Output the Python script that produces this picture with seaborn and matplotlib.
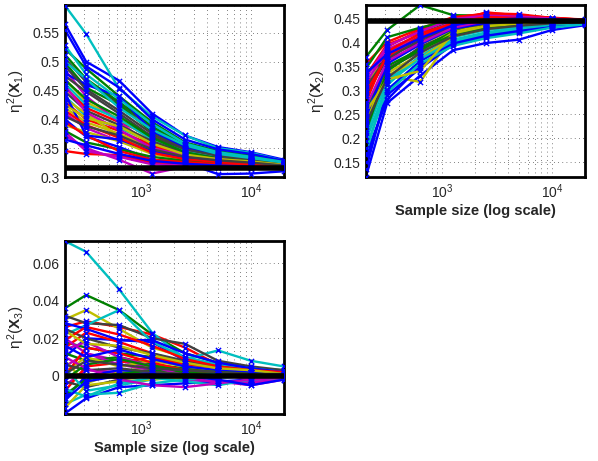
import numpy as np
import pandas as pd
import matplotlib
matplotlib.use("Agg")
import matplotlib.pyplot as plt
from matplotlib.ticker import NullFormatter, FixedLocator
import seaborn as sns

# tamaños de muestra (eje x logaritmico)
tamanos = [200, 312, 625, 1250, 2500, 5000, 10000, 20000]

# valores verdaderos (linea negra)
verdad_x1 = 0.3155
verdad_x2 = 0.444
verdad_x3 = 0.0

# eta^2(X1): una fila por repeticion
eta_x1 = [
    [0.565, 0.500, 0.467, 0.410, 0.372, 0.352, 0.343, 0.330],
    [0.522, 0.488, 0.440, 0.395, 0.360, 0.345, 0.337, 0.327],
    [0.345, 0.340, 0.338, 0.325, 0.322, 0.318, 0.316, 0.318],
    [0.597, 0.548, 0.453, 0.405, 0.372, 0.350, 0.342, 0.328],
    [0.372, 0.350, 0.330, 0.306, 0.318, 0.316, 0.314, 0.318],
    [0.470, 0.430, 0.400, 0.365, 0.345, 0.335, 0.330, 0.322],
    [0.505, 0.465, 0.428, 0.385, 0.350, 0.338, 0.333, 0.325],
    [0.555, 0.492, 0.455, 0.400, 0.365, 0.348, 0.340, 0.328],
    [0.498, 0.455, 0.425, 0.378, 0.352, 0.340, 0.332, 0.324],
    [0.455, 0.420, 0.395, 0.372, 0.348, 0.336, 0.330, 0.322],
    [0.440, 0.405, 0.385, 0.360, 0.340, 0.334, 0.329, 0.323],
    [0.485, 0.440, 0.395, 0.355, 0.340, 0.330, 0.326, 0.321],
    [0.420, 0.395, 0.375, 0.352, 0.338, 0.332, 0.327, 0.322],
    [0.475, 0.448, 0.410, 0.370, 0.346, 0.335, 0.330, 0.323],
    [0.400, 0.370, 0.352, 0.330, 0.325, 0.305, 0.306, 0.310],
    [0.512, 0.470, 0.430, 0.388, 0.355, 0.342, 0.334, 0.326],
    [0.430, 0.400, 0.380, 0.355, 0.336, 0.330, 0.326, 0.320],
    [0.462, 0.425, 0.400, 0.365, 0.344, 0.334, 0.329, 0.323],
    [0.410, 0.385, 0.362, 0.345, 0.332, 0.328, 0.324, 0.320],
    [0.390, 0.378, 0.362, 0.340, 0.330, 0.327, 0.323, 0.319],
    [0.448, 0.415, 0.390, 0.362, 0.342, 0.333, 0.328, 0.322],
    [0.480, 0.460, 0.440, 0.380, 0.350, 0.338, 0.331, 0.324],
    [0.380, 0.360, 0.348, 0.335, 0.328, 0.324, 0.321, 0.318],
    [0.395, 0.372, 0.345, 0.330, 0.326, 0.322, 0.320, 0.317],
    [0.528, 0.478, 0.435, 0.392, 0.358, 0.343, 0.335, 0.326],
    [0.378, 0.345, 0.335, 0.322, 0.320, 0.318, 0.316, 0.315],
    [0.435, 0.410, 0.370, 0.348, 0.334, 0.329, 0.325, 0.321],
    [0.492, 0.452, 0.415, 0.375, 0.348, 0.337, 0.331, 0.324],
    [0.445, 0.372, 0.365, 0.345, 0.333, 0.327, 0.324, 0.320],
    [0.468, 0.435, 0.405, 0.368, 0.343, 0.332, 0.327, 0.322],
    [0.415, 0.390, 0.368, 0.342, 0.331, 0.326, 0.322, 0.319],
    [0.500, 0.470, 0.420, 0.382, 0.355, 0.340, 0.333, 0.325],
    [0.458, 0.412, 0.382, 0.350, 0.337, 0.331, 0.326, 0.321],
    [0.425, 0.402, 0.388, 0.358, 0.339, 0.331, 0.327, 0.321],
    [0.405, 0.388, 0.372, 0.348, 0.335, 0.329, 0.325, 0.320],
    [0.365, 0.355, 0.340, 0.328, 0.323, 0.320, 0.318, 0.316],
]

# eta^2(X2)
eta_x2 = [
    [0.120, 0.273, 0.330, 0.383, 0.398, 0.405, 0.425, 0.435],
    [0.369, 0.425, 0.477, 0.456, 0.455, 0.450, 0.448, 0.445],
    [0.330, 0.395, 0.420, 0.440, 0.462, 0.455, 0.450, 0.446],
    [0.180, 0.300, 0.360, 0.400, 0.415, 0.425, 0.435, 0.440],
    [0.300, 0.380, 0.410, 0.435, 0.448, 0.452, 0.447, 0.444],
    [0.250, 0.330, 0.317, 0.415, 0.430, 0.435, 0.440, 0.442],
    [0.270, 0.340, 0.390, 0.420, 0.435, 0.440, 0.442, 0.443],
    [0.150, 0.290, 0.345, 0.395, 0.410, 0.420, 0.432, 0.438],
    [0.340, 0.360, 0.415, 0.445, 0.450, 0.448, 0.446, 0.444],
    [0.310, 0.390, 0.425, 0.450, 0.460, 0.458, 0.450, 0.447],
    [0.210, 0.320, 0.370, 0.410, 0.425, 0.432, 0.438, 0.441],
    [0.285, 0.375, 0.400, 0.430, 0.445, 0.448, 0.446, 0.444],
    [0.320, 0.360, 0.395, 0.425, 0.440, 0.444, 0.445, 0.443],
    [0.235, 0.345, 0.380, 0.418, 0.432, 0.438, 0.441, 0.442],
    [0.165, 0.280, 0.350, 0.398, 0.412, 0.422, 0.434, 0.439],
    [0.260, 0.350, 0.385, 0.422, 0.436, 0.441, 0.443, 0.443],
    [0.355, 0.400, 0.428, 0.452, 0.458, 0.455, 0.451, 0.446],
    [0.195, 0.310, 0.372, 0.405, 0.420, 0.430, 0.437, 0.440],
    [0.315, 0.385, 0.415, 0.442, 0.452, 0.450, 0.448, 0.445],
    [0.225, 0.330, 0.365, 0.412, 0.428, 0.436, 0.440, 0.441],
    [0.290, 0.365, 0.405, 0.432, 0.442, 0.446, 0.445, 0.444],
    [0.135, 0.300, 0.360, 0.400, 0.415, 0.425, 0.436, 0.439],
    [0.345, 0.410, 0.430, 0.446, 0.448, 0.447, 0.446, 0.444],
    [0.275, 0.380, 0.418, 0.438, 0.455, 0.452, 0.449, 0.445],
    [0.205, 0.295, 0.355, 0.392, 0.408, 0.418, 0.430, 0.437],
    [0.325, 0.392, 0.422, 0.448, 0.455, 0.453, 0.449, 0.445],
    [0.240, 0.335, 0.375, 0.420, 0.438, 0.442, 0.444, 0.443],
    [0.305, 0.370, 0.400, 0.428, 0.438, 0.443, 0.444, 0.443],
    [0.245, 0.355, 0.395, 0.428, 0.440, 0.446, 0.445, 0.444],
    [0.215, 0.340, 0.385, 0.415, 0.430, 0.437, 0.441, 0.442],
    [0.295, 0.370, 0.412, 0.440, 0.452, 0.450, 0.447, 0.445],
    [0.170, 0.315, 0.365, 0.402, 0.418, 0.428, 0.436, 0.440],
    [0.265, 0.360, 0.398, 0.430, 0.444, 0.447, 0.446, 0.444],
    [0.255, 0.322, 0.340, 0.418, 0.433, 0.438, 0.441, 0.442],
    [0.230, 0.325, 0.378, 0.412, 0.427, 0.434, 0.439, 0.441],
    [0.335, 0.375, 0.408, 0.435, 0.446, 0.449, 0.447, 0.444],
]

# eta^2(X3)
eta_x3 = [
    [0.010, 0.020, 0.019, 0.018, 0.008, 0.005, 0.003, 0.002],
    [0.036, 0.043, 0.035, 0.022, 0.012, 0.007, 0.004, 0.003],
    [0.026, 0.029, 0.026, 0.022, 0.015, 0.006, 0.003, 0.002],
    [0.0717, 0.066, 0.046, 0.023, 0.009, 0.0135, 0.008, 0.005],
    [0.005, 0.012, 0.008, 0.004, 0.002, -0.003, -0.005, -0.002],
    [0.030, 0.035, 0.025, 0.015, 0.010, 0.005, 0.003, 0.002],
    [0.032, 0.028, 0.027, 0.020, 0.017, 0.008, 0.005, 0.003],
    [-0.020, -0.012, -0.006, -0.005, -0.004, -0.003, -0.002, -0.001],
    [0.018, 0.015, 0.012, 0.010, 0.006, 0.004, 0.002, 0.002],
    [0.015, 0.023, 0.018, 0.012, 0.007, 0.002, 0.001, 0.001],
    [0.022, 0.027, 0.035, 0.018, 0.010, 0.006, 0.004, 0.002],
    [-0.005, 0.003, 0.002, 0.001, -0.002, -0.003, -0.004, -0.001],
    [0.008, -0.004, 0.002, 0.005, 0.004, 0.002, 0.001, 0.000],
    [0.025, 0.020, 0.015, 0.012, 0.008, 0.005, 0.003, 0.002],
    [-0.012, 0.000, 0.003, 0.002, 0.001, 0.000, -0.001, 0.000],
    [0.012, 0.008, 0.010, 0.006, 0.004, 0.003, 0.002, 0.001],
    [-0.008, 0.005, 0.007, 0.010, 0.006, 0.003, 0.001, 0.001],
    [-0.015, -0.010, -0.009, -0.004, -0.002, -0.001, 0.000, -0.001],
    [0.020, 0.012, 0.006, 0.003, 0.002, 0.001, -0.002, 0.000],
    [0.002, 0.010, 0.005, 0.008, 0.005, 0.003, 0.002, 0.001],
    [-0.003, -0.006, -0.002, 0.000, 0.001, 0.001, 0.001, 0.000],
    [0.028, 0.025, 0.019, 0.019, 0.012, 0.007, 0.004, 0.002],
    [-0.010, -0.002, 0.001, 0.003, 0.002, 0.001, 0.000, 0.000],
    [0.000, 0.015, 0.012, 0.007, 0.003, 0.002, 0.001, 0.001],
    [0.004, -0.008, -0.005, -0.002, 0.000, 0.001, 0.001, 0.001],
    [0.014, 0.018, 0.010, 0.005, 0.000, -0.004, -0.003, -0.001],
    [-0.017, -0.005, -0.003, -0.002, -0.001, 0.000, 0.000, 0.000],
    [0.006, 0.003, 0.004, 0.002, 0.001, 0.000, 0.000, 0.000],
    [0.016, 0.010, 0.014, 0.009, 0.005, 0.003, 0.002, 0.001],
    [-0.002, 0.006, 0.009, 0.005, 0.003, 0.002, 0.001, 0.001],
    [0.019, 0.026, 0.022, 0.016, 0.009, 0.005, 0.003, 0.002],
    [-0.007, -0.011, -0.004, -0.001, -0.003, -0.005, -0.002, -0.001],
    [0.010, 0.004, -0.002, -0.005, -0.006, -0.004, -0.002, -0.001],
    [0.024, 0.017, 0.016, 0.011, 0.007, 0.004, 0.003, 0.001],
    [0.001, 0.008, 0.006, 0.004, 0.003, 0.002, 0.001, 0.001],
    [-0.013, -0.003, 0.000, 0.001, 0.000, -0.002, -0.005, -0.002],
]

etiquetas_y = [r'$\eta^2(\mathbf{X}_1)$', r'$\eta^2(\mathbf{X}_2)$', r'$\eta^2(\mathbf{X}_3)$']
ticks_y = [
    [0.3, 0.35, 0.4, 0.45, 0.5, 0.55],
    [0.15, 0.2, 0.25, 0.3, 0.35, 0.4, 0.45],
    [0, 0.02, 0.04, 0.06],
]
etiquetas_ticks_y = [
    ['0.3', '0.35', '0.4', '0.45', '0.5', '0.55'],
    ['0.15', '0.2', '0.25', '0.3', '0.35', '0.4', '0.45'],
    ['0', '0.02', '0.04', '0.06'],
]
limites_y = [(0.3, 0.598), (0.119, 0.477), (-0.0203, 0.0717)]

# orden de colores clasico de MATLAB
colores_matlab = [(0, 0, 1), (0, 0.5, 0), (1, 0, 0), (0, 0.75, 0.75),
                  (0.75, 0, 0.75), (0.75, 0.75, 0), (0.25, 0.25, 0.25)]


def a_largo(valores):
    filas = []
    for i, serie in enumerate(valores):
        for n, v in zip(tamanos, serie):
            filas.append({'corrida': i, 'N': n, 'eta': v})
    return pd.DataFrame(filas)


sns.set_style("white")
plt.rcParams['font.family'] = ['Liberation Sans', 'DejaVu Sans']
plt.rcParams['mathtext.fontset'] = 'custom'
plt.rcParams['mathtext.rm'] = 'Liberation Sans'
plt.rcParams['mathtext.it'] = 'Liberation Sans'
plt.rcParams['mathtext.bf'] = 'Liberation Sans:bold'

fig = plt.figure(figsize=(5.98, 4.61), dpi=100)
posiciones = [
    [0.1087, 0.616, 0.366, 0.373],
    [0.612, 0.616, 0.366, 0.373],
    [0.1087, 0.102, 0.366, 0.375],
]
datos = [eta_x1, eta_x2, eta_x3]
verdades = [verdad_x1, verdad_x2, verdad_x3]

for k in range(3):
    ax = fig.add_axes(posiciones[k])
    df = a_largo(datos[k])
    n_corr = len(datos[k])
    paleta = [colores_matlab[i % 7] for i in range(n_corr)]
    sns.lineplot(data=df, x='N', y='eta', hue='corrida', palette=paleta,
                 legend=False, linewidth=1.7, ax=ax, zorder=2)
    sns.scatterplot(data=df, x='N', y='eta', marker='x', color='blue',
                    s=14, linewidth=1.0, ax=ax, zorder=3)
    ax.axhline(verdades[k], color='black', lw=4, zorder=4)

    ax.set_xscale('log')
    ax.set_xlim(200, 20000)
    ax.set_ylim(*limites_y[k])
    ax.xaxis.set_major_locator(FixedLocator([1e3, 1e4]))
    ax.xaxis.set_minor_locator(FixedLocator([300, 400, 500, 600, 700, 800, 900,
                                             2000, 3000, 4000, 5000, 6000, 7000, 8000, 9000]))
    ax.xaxis.set_minor_formatter(NullFormatter())
    ax.set_xticks([1e3, 1e4], [r'$10^3$', r'$10^4$'])
    ax.set_yticks(ticks_y[k], etiquetas_ticks_y[k])

    ax.grid(True, which='both', axis='x', linestyle=(0, (1, 4)), color='0.35', lw=0.6, zorder=0)
    ax.grid(True, which='major', axis='y', linestyle=(0, (1, 4)), color='0.35', lw=0.6, zorder=0)
    ax.set_axisbelow(True)
    ax.tick_params(direction='in', which='both', length=3, width=1, labelsize=10, pad=4)
    for s in ax.spines.values():
        s.set_linewidth(2)
        s.set_color('black')

    ax.set_ylabel(etiquetas_y[k], fontsize=11, fontweight='bold', labelpad=4)
    if k == 0:
        ax.set_xlabel('')
    else:
        ax.set_xlabel('Sample size (log scale)', fontsize=10.5, fontweight='bold', labelpad=2)

fig.savefig('out.png', dpi=100)
